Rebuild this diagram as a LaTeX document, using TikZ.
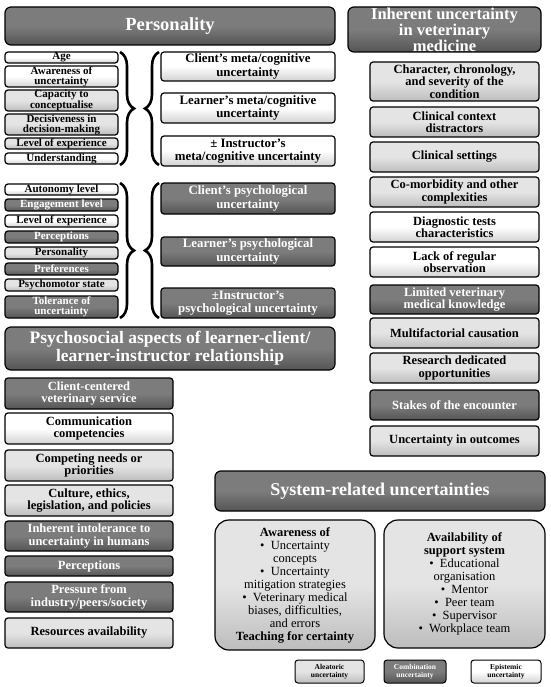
\documentclass[tikz,border=0pt]{standalone}
\usepackage{fontspec}
\setmainfont{Liberation Serif}
\usetikzlibrary{decorations.pathreplacing}
\definecolor{ltA}{HTML}{E4E4E4}
\definecolor{ltB}{HTML}{BDBDBD}
\definecolor{dkA}{HTML}{7C7C7C}
\definecolor{dkB}{HTML}{555555}
\definecolor{wtB}{HTML}{D2D2D2}
\newcommand\fs[2]{\fontsize{#1}{#2}\selectfont}
% \bxn{style}{name}{x1}{y1}{x2}{y2}{text}
\newcommand\bxn[7]{%
  \pgfmathsetmacro\bxcx{(#3+#5)/2}%
  \pgfmathsetmacro\bxcy{(#4+#6)/2}%
  \pgfmathsetmacro\bxw{#5-#3}%
  \pgfmathsetmacro\bxh{#6-#4}%
  \node[#1, minimum width=\bxw pt, minimum height=\bxh pt] (#2) at (\bxcx,\bxcy) {#7};}
\tikzset{
  box/.style={draw=black, line width=1.2pt, rounded corners=3pt, inner sep=0pt, align=center, font=\bfseries},
  lt/.style={box, top color=ltA, bottom color=ltB, middle color=ltA},
  dk/.style={box, top color=dkA, bottom color=dkB, middle color=dkA, text=white},
  wt/.style={box, top color=white, bottom color=wtB, middle color=white},
  brc/.style={decorate, decoration={brace, amplitude=14pt}, line width=2.6pt},
  small/.style={font=\bfseries\fs{11}{10}},
  mid/.style={font=\bfseries\fs{12.8}{13.5}},
  col/.style={font=\bfseries\fs{12.5}{12.5}},
  head/.style={font=\bfseries\fs{18.5}{20}, rounded corners=6pt},
  leg/.style={font=\bfseries\fs{7.5}{8}, line width=1pt},
  big/.style={rounded corners=14pt, font=\fs{12.5}{13}}
}
\begin{document}
\begin{tikzpicture}[x=1pt,y=-1pt]
\useasboundingbox (0,0) rectangle (550,687);
% Personality
\bxn{dk, head}{pers}{5}{7}{335}{45}{Personality}
\bxn{wt, small}{age}{5}{52}{118}{63}{Age}
\bxn{wt, small}{awar}{5}{66}{118}{87}{Awareness of\\uncertainty}
\bxn{lt, small}{capa}{5}{90}{118}{111}{Capacity to\\conceptualise}
\bxn{lt, small}{deci}{5}{114}{118}{135}{Decisiveness in\\decision-making}
\bxn{lt, small}{lexp}{5}{138}{118}{149}{Level of experience}
\bxn{wt, small}{unde}{5}{153}{118}{164}{Understanding}
\bxn{wt, mid}{cmeta}{161}{52}{335}{81}{Client’s meta/cognitive\\uncertainty}
\bxn{wt, mid}{lmeta}{161}{93}{335}{123}{Learner’s meta/cognitive\\uncertainty}
\bxn{wt, mid}{imeta}{161}{136}{335}{166}{± Instructor’s\\meta/cognitive uncertainty}
\coordinate (b1t) at (120,52);
\coordinate (b1b) at (120,165);
\coordinate (b2t) at (159,52);
\coordinate (b2b) at (159,165);
\draw[brc] (b1t) -- (b1b);
\draw[brc] (b2b) -- (b2t);
% psychological
\bxn{wt, small}{auto}{5}{184}{118}{195}{Autonomy level}
\bxn{dk, small}{enga}{5}{199}{118}{211}{Engagement level}
\bxn{wt, small}{lexpb}{5}{215}{118}{227}{Level of experience}
\bxn{dk, small}{perc}{5}{231}{118}{243}{Perceptions}
\bxn{lt, small}{persb}{5}{247}{118}{259}{Personality}
\bxn{dk, small}{pref}{5}{263}{118}{275}{Preferences}
\bxn{lt, small}{psyc}{5}{279}{118}{291}{Psychomotor state}
\bxn{dk, small}{tole}{5}{296}{118}{318}{Tolerance of\\uncertainty}
\bxn{dk, mid}{cpsy}{161}{183}{335}{214}{Client’s psychological\\uncertainty}
\bxn{dk, mid}{lpsy}{161}{237}{335}{266}{Learner’s psychological\\uncertainty}
\bxn{dk, mid}{ipsy}{161}{288}{335}{318}{±Instructor’s\\psychological uncertainty}
\coordinate (b3t) at (120,183);
\coordinate (b3b) at (120,318);
\coordinate (b4t) at (159,183);
\coordinate (b4b) at (159,318);
\draw[brc] (b3t) -- (b3b);
\draw[brc] (b4b) -- (b4t);
% Psychosocial
\bxn{dk, head, font=\bfseries\fs{17.5}{18}}{psoc}{5}{327}{335}{370}{Psychosocial aspects of learner-client/\\learner-instructor relationship}
\bxn{dk, col}{ccvs}{5}{378}{173}{409}{Client-centered\\veterinary service}
\bxn{wt, col}{comm}{5}{413}{173}{444}{Communication\\competencies}
\bxn{lt, col}{cnp}{5}{450}{173}{481}{Competing needs or\\priorities}
\bxn{lt, col}{cul}{5}{485}{173}{516}{Culture, ethics,\\legislation, and policies}
\bxn{dk, col}{iit}{5}{521}{173}{551}{Inherent intolerance to\\uncertainty in humans}
\bxn{dk, col}{percb}{5}{556}{173}{576}{Perceptions}
\bxn{dk, col}{pres}{5}{582}{173}{612}{Pressure from\\industry/peers/society}
\bxn{lt, col}{reso}{5}{618}{173}{648}{Resources availability}
% Inherent uncertainty
\bxn{dk, head, font=\bfseries\fs{16.5}{14.5}}{inh}{348}{7}{541}{52}{Inherent uncertainty\\in veterinary\\medicine}
\bxn{lt, col}{char}{370}{62}{539}{101}{Character, chronology,\\and severity of the\\condition}
\bxn{lt, col}{ccd}{370}{107}{539}{137}{Clinical context\\distractors}
\bxn{lt, col}{cset}{370}{142}{539}{172}{Clinical settings}
\bxn{lt, col}{comor}{370}{177}{539}{207}{Co-morbidity and other\\complexities}
\bxn{wt, col}{diag}{370}{212}{539}{242}{Diagnostic tests\\characteristics}
\bxn{wt, col}{lack}{370}{247}{539}{277}{Lack of regular\\observation}
\bxn{dk, col}{lim}{370}{285}{539}{314}{Limited veterinary\\medical knowledge}
\bxn{lt, col}{mult}{370}{318}{539}{348}{Multifactorial causation}
\bxn{lt, col}{rese}{370}{353}{539}{383}{Research dedicated\\opportunities}
\bxn{dk, col}{stak}{370}{390}{539}{420}{Stakes of the encounter}
\bxn{lt, col}{unco}{370}{426}{539}{456}{Uncertainty in outcomes}
% System-related
\bxn{dk, head, font=\bfseries\fs{18}{19}}{sys}{215}{471}{545}{511}{System-related uncertainties}
\bxn{lt, big}{awbox}{215}{520}{375}{650}{\textbf{Awareness of}\\•\ \ Uncertainty\\concepts\\•\ \ Uncertainty\\mitigation strategies\\•\ \ Veterinary medical\\biases, difficulties,\\and errors\\\textbf{Teaching for certainty}}
\bxn{lt, big}{avbox}{384}{520}{545}{648}{\textbf{Availability of}\\\textbf{support system}\\•\ \ Educational\\organisation\\•\ \ Mentor\\•\ \ Peer team\\•\ \ Supervisor\\•\ \ Workplace team}
% Legend
\bxn{lt, leg}{ale}{295}{660}{364}{683}{Aleatoric\\uncertainty}
\bxn{dk, leg}{comb}{384}{660}{446}{683}{Combination\\uncertainty}
\bxn{wt, leg}{epi}{471}{660}{541}{683}{Epistemic\\uncertainty}
\end{tikzpicture}
\end{document}
